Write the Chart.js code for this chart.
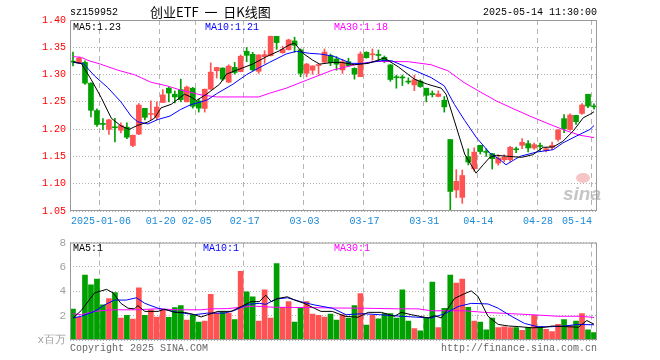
<!DOCTYPE html>
<html>
<head>
<meta charset="utf-8">
<script src="https://cdn.jsdelivr.net/npm/chart.js@4"></script>
<style>
    body { margin: 0; background: #fff; }
    #wrap { position: relative; width: 660px; height: 360px; }
    canvas { position: absolute; left: 0; }
</style>
</head>
<body>
<div id="wrap">
    <canvas id="priceChart" width="660" height="232" style="top:0;width:660px;height:232px"></canvas>
    <canvas id="volChart" width="660" height="128" style="top:232px;width:660px;height:128px"></canvas>
</div>
<script>
// daily candles, 2024-12-27 .. 2025-05-14 (88 trading days)
const opens = [
    1.3240, 1.3210, 1.3222, 1.2843, 1.2340, 1.2093, 1.1995, 1.2030, 1.1980, 1.2036,
    1.1700, 1.1910, 1.2381, 1.2270, 1.2217, 1.2489, 1.2751, 1.2640, 1.2723, 1.2500,
    1.2750, 1.2515, 1.2380, 1.2732, 1.3070, 1.3119, 1.2860, 1.3132, 1.3054, 1.3427,
    1.3370, 1.3060, 1.3328, 1.3346, 1.3700, 1.3400, 1.3458, 1.3616, 1.3453, 1.3023,
    1.3080, 1.3165, 1.3228, 1.3346, 1.3285, 1.3085, 1.3235, 1.3113, 1.2962, 1.3408,
    1.3362, 1.3358, 1.3316, 1.3177, 1.2950, 1.2945, 1.2868, 1.2810, 1.2880, 1.2750,
    1.2640, 1.2600, 1.2530, 1.1810, 1.0885, 1.0750, 1.1495, 1.1273, 1.1703, 1.1580,
    1.1552, 1.1378, 1.1440, 1.1440, 1.1632, 1.1704, 1.1735, 1.1655, 1.1690, 1.1606,
    1.1667, 1.1812, 1.2192, 1.1993, 1.2252, 1.2288, 1.2640, 1.2414
];
const highs = [
    1.3410, 1.3320, 1.3250, 1.2850, 1.2370, 1.2192, 1.2180, 1.2200, 1.2116, 1.2116,
    1.1890, 1.2467, 1.2381, 1.2517, 1.2500, 1.2725, 1.2770, 1.2700, 1.2916, 1.2790,
    1.2765, 1.2545, 1.2734, 1.3215, 1.3135, 1.3125, 1.3180, 1.3223, 1.3360, 1.3495,
    1.3408, 1.3365, 1.3438, 1.3705, 1.3702, 1.3520, 1.3648, 1.3685, 1.3470, 1.3205,
    1.3162, 1.3205, 1.3470, 1.3377, 1.3330, 1.3280, 1.3300, 1.3125, 1.3417, 1.3420,
    1.3470, 1.3450, 1.3340, 1.3185, 1.2990, 1.2990, 1.2940, 1.2990, 1.2905, 1.2750,
    1.2700, 1.2700, 1.2597, 1.1810, 1.1257, 1.1250, 1.1640, 1.1658, 1.1706, 1.1640,
    1.1555, 1.1530, 1.1530, 1.1685, 1.1672, 1.1827, 1.1790, 1.1745, 1.1745, 1.1667,
    1.1765, 1.1990, 1.2265, 1.2282, 1.2252, 1.2467, 1.2640, 1.2463
];
const lows = [
    1.3160, 1.3200, 1.2820, 1.2225, 1.2050, 1.1990, 1.1905, 1.1765, 1.1930, 1.1827,
    1.1680, 1.1900, 1.2168, 1.2180, 1.2174, 1.2489, 1.2500, 1.2480, 1.2500, 1.2500,
    1.2385, 1.2312, 1.2312, 1.2730, 1.2935, 1.2890, 1.2855, 1.3007, 1.3050, 1.3236,
    1.3070, 1.3021, 1.3205, 1.3340, 1.3462, 1.3390, 1.3450, 1.3408, 1.2960, 1.2960,
    1.3007, 1.3007, 1.3220, 1.3162, 1.3080, 1.3020, 1.3150, 1.2916, 1.2960, 1.3300,
    1.3266, 1.3254, 1.3220, 1.2876, 1.2750, 1.2800, 1.2830, 1.2705, 1.2765, 1.2500,
    1.2590, 1.2590, 1.2312, 1.0500, 1.0745, 1.0640, 1.1345, 1.1230, 1.1544, 1.1500,
    1.1268, 1.1340, 1.1400, 1.1410, 1.1570, 1.1643, 1.1581, 1.1630, 1.1610, 1.1581,
    1.1625, 1.1778, 1.1935, 1.1975, 1.2086, 1.2270, 1.2393, 1.2365
];
const closes = [
    1.3228, 1.3300, 1.2843, 1.2345, 1.2085, 1.2087, 1.2170, 1.2025, 1.2067, 1.1852,
    1.1888, 1.2440, 1.2217, 1.2278, 1.2405, 1.2628, 1.2661, 1.2590, 1.2541, 1.2770,
    1.2420, 1.2385, 1.2732, 1.3045, 1.3130, 1.2917, 1.3155, 1.3039, 1.3336, 1.3352,
    1.3088, 1.3360, 1.3365, 1.3700, 1.3586, 1.3460, 1.3635, 1.3536, 1.3023, 1.3193,
    1.3158, 1.3178, 1.3412, 1.3220, 1.3190, 1.3235, 1.3163, 1.3008, 1.3377, 1.3310,
    1.3372, 1.3350, 1.3254, 1.2910, 1.2942, 1.2938, 1.2862, 1.2905, 1.2781, 1.2620,
    1.2634, 1.2644, 1.2408, 1.0858, 1.1043, 1.1150, 1.1397, 1.1578, 1.1590, 1.1574,
    1.1458, 1.1470, 1.1483, 1.1667, 1.1622, 1.1759, 1.1655, 1.1716, 1.1683, 1.1643,
    1.1704, 1.1985, 1.2010, 1.2258, 1.2135, 1.2442, 1.2422, 1.2408
];
// volume, millions
const volumes = [
    2.53, 1.87, 5.33, 4.53, 5.01, 2.88, 3.41, 3.89, 1.81, 2.03,
    1.71, 4.29, 2.03, 2.48, 1.89, 2.48, 1.87, 2.67, 2.83, 1.63,
    2.03, 1.47, 1.55, 3.76, 2.21, 2.29, 2.21, 1.68, 5.63, 3.95,
    3.55, 1.55, 4.13, 1.81, 6.27, 2.69, 3.15, 1.47, 2.61, 3.15,
    2.13, 2.03, 1.89, 2.13, 1.63, 2.08, 1.81, 2.83, 3.81, 1.23,
    2.03, 1.73, 2.16, 2.16, 1.81, 4.13, 1.55, 0.93, 0.75, 1.81,
    4.75, 1.01, 2.61, 5.33, 4.67, 5.01, 2.69, 1.55, 1.47, 0.83,
    1.81, 1.01, 1.09, 1.01, 1.01, 0.80, 1.01, 2.03, 1.09, 0.88,
    0.69, 1.28, 1.68, 1.20, 1.55, 2.16, 0.83, 0.61
];

// moving average lines: [day index, value]
const priceMa5 = [
    [0, 1.3235], [1.4, 1.3200], [3, 1.2916], [4.7, 1.2580], [6.4, 1.2200], [8, 1.2060],
    [9.4, 1.1996], [10.8, 1.2070], [12.5, 1.2130], [13.6, 1.2200], [14.7, 1.2390],
    [16.4, 1.2455], [18.6, 1.2640], [19.7, 1.2590], [20.6, 1.2525], [22.3, 1.2640],
    [24.5, 1.2825], [25.6, 1.3006], [27.3, 1.3080], [30, 1.3192], [32.3, 1.3328],
    [34.5, 1.3438], [36.2, 1.3549], [37, 1.3574], [38.4, 1.3389], [40, 1.3266],
    [41.2, 1.3192], [43.4, 1.3223], [44.8, 1.3223], [47, 1.3180], [49.3, 1.3205],
    [52, 1.3303], [54.3, 1.3143], [57, 1.2916], [59.2, 1.2823], [61.5, 1.2750],
    [62.3, 1.2639], [63.7, 1.2147], [65.4, 1.1544], [66.3, 1.1378], [67.3, 1.1194],
    [68.5, 1.1347], [69.6, 1.1483], [70.7, 1.1520], [72.9, 1.1500], [74.9, 1.1483],
    [76.8, 1.1532], [78.5, 1.1667], [80.2, 1.1673], [81.8, 1.1778], [83.5, 1.1962],
    [85.2, 1.2208], [86.3, 1.2270], [87, 1.2319]
];
const priceMa10 = [
    [0, 1.3223], [1.7, 1.3205], [3.6, 1.2975], [5.8, 1.2762], [8, 1.2500], [9.7, 1.2239],
    [10.8, 1.2135], [12.5, 1.2095], [14.2, 1.2178], [16.2, 1.2240], [18, 1.2362],
    [19.7, 1.2450], [21.4, 1.2500], [22.5, 1.2540], [24, 1.2650], [26.7, 1.2823],
    [29, 1.3000], [31.2, 1.3132], [32.8, 1.3223], [35.6, 1.3377], [37.3, 1.3426],
    [39.5, 1.3389], [41.2, 1.3377], [43.4, 1.3340], [46.5, 1.3205], [48.7, 1.3205],
    [51.5, 1.3254], [53.2, 1.3254], [56.5, 1.3100], [59.8, 1.2945], [62, 1.2793],
    [63.7, 1.2451], [65.4, 1.2160], [67.4, 1.1840], [69.6, 1.1563], [71.3, 1.1440],
    [72.3, 1.1347], [74.6, 1.1500], [77.4, 1.1580], [80.2, 1.1624], [81.8, 1.1747],
    [84, 1.1870], [86.3, 1.1993], [87, 1.2067]
];
const priceMa30 = [
    [0, 1.3330], [1.4, 1.3315], [2.5, 1.3260], [4.6, 1.3190], [7.5, 1.3080],
    [10.3, 1.2996], [13, 1.2860], [15.8, 1.2790], [18, 1.2715], [21.4, 1.2627],
    [24, 1.2590], [31, 1.2590], [32.8, 1.2657], [35.6, 1.2750], [39, 1.2897],
    [43.3, 1.3080], [47.6, 1.3193], [50.4, 1.3242], [56, 1.3236], [59.8, 1.3180],
    [62.6, 1.3070], [65.3, 1.2854], [68, 1.2682], [70.7, 1.2516], [73.5, 1.2375],
    [76.3, 1.2239], [79, 1.2116], [81.8, 1.1993], [84.6, 1.1889], [87, 1.1845]
];
const volMa5 = [
    [0, 1.81], [1.4, 2.43], [2.5, 3.15], [3.6, 3.87], [4.7, 4.03], [5.6, 4.16], [6.7, 3.87],
    [8, 3.01], [9.2, 2.61], [10.3, 2.56], [10.8, 2.83], [12, 2.35], [14.2, 2.35],
    [15.3, 2.53], [17, 2.27], [18.6, 2.27], [20.3, 2.08], [21.4, 1.89], [22.5, 2.08],
    [24.2, 2.35], [26.4, 2.35], [28.1, 2.75], [29.7, 3.15], [31.1, 3.15], [32.2, 3.68],
    [33.1, 3.15], [34.2, 3.41], [35.8, 3.55], [37, 3.28], [38.6, 3.01], [40.3, 2.61],
    [41.4, 2.35], [43.3, 2.35], [45.4, 1.95], [47.6, 1.87], [49.3, 2.27], [51.5, 2.27],
    [53.7, 1.95], [54.8, 2.27], [56.5, 2.08], [59.3, 1.81], [60.4, 2.00], [61.5, 1.81],
    [62.3, 2.35], [63.7, 3.41], [65.4, 3.81], [66.5, 4.03], [67.6, 3.60], [69.3, 1.95],
    [71, 1.28], [72.7, 1.15], [74.4, 1.10], [76.7, 1.00], [78.9, 1.05], [80, 1.15],
    [82.2, 1.10], [84.4, 1.05], [85.8, 1.60], [87, 1.30]
];
const volMa10 = [
    [0, 1.81], [1.4, 1.95], [3.6, 2.35], [5.3, 2.88], [6.9, 3.28], [8.9, 3.28], [10.6, 3.47],
    [12, 3.01], [14.2, 2.61], [17.5, 2.27], [20.3, 2.08], [22.5, 2.21], [25.3, 2.21],
    [27, 2.43], [29.2, 2.93], [31.1, 3.01], [32.2, 2.93], [33.9, 3.36], [35.8, 3.47],
    [38, 3.15], [40.3, 2.88], [43.3, 2.61], [45.6, 2.08], [48.4, 2.16], [51.2, 2.08],
    [54.8, 1.95], [57.6, 1.87], [59.8, 1.81], [62.1, 2.16], [64.3, 2.75], [66.5, 3.01],
    [69.3, 2.96], [71, 2.61], [73.2, 1.95], [75.4, 1.36], [77.6, 1.09], [79.8, 1.09],
    [82.1, 1.15], [84.3, 1.28], [87, 1.25]
];
const volMa30 = [
    [0, 2.16], [1.4, 2.08], [3.6, 2.35], [6.4, 2.48], [10.3, 2.48], [14.2, 2.56],
    [17.5, 2.48], [21.4, 2.48], [23, 2.56], [25.8, 2.58], [28.1, 2.69], [30.3, 2.78],
    [33.6, 2.69], [37, 2.67], [39.2, 2.67], [43.3, 2.63], [48.7, 2.61], [54.3, 2.56],
    [57.6, 2.56], [59.8, 2.40], [65.4, 2.40], [68.7, 2.27], [73.2, 2.16], [77.6, 2.05],
    [81, 1.95], [84.8, 1.95], [87, 1.85]
];

const xTickIdx = [5, 15, 21, 29, 39, 49, 59, 68, 78, 87];
const xTickLabels = ['2025-01-06', '01-20', '02-05', '02-17', '03-03', '03-17', '03-31', '04-14', '04-28', '05-14'];
const priceTicks = [1.05, 1.10, 1.15, 1.20, 1.25, 1.30, 1.35, 1.40];
const volTicks = [0, 2, 4, 6, 8];

const RED = '#ff5353';
const GREEN = '#00a000';
const MONO = "'Liberation Mono', 'DejaVu Sans Mono', monospace";
const GRID = '#b4b4b4';

const candleColors = closes.map((c, i) => c >= opens[i] ? RED : GREEN);
const wicks = closes.map((c, i) => ({x: i, y: [lows[i], highs[i]]}));
const bodies = closes.map((c, i) => ({x: i, y: [opens[i], c]}));
const volBars = volumes.map((v, i) => ({x: i, y: v}));
const toPts = arr => arr.map(p => ({x: p[0], y: p[1]}));

function maLine(points, color) {
    return {
        type: 'line',
        data: toPts(points),
        borderColor: color,
        borderWidth: 1,
        pointRadius: 0,
        tension: 0,
        order: 0
    };
}

function xScale(axisHeight) {
    return {
        type: 'linear',
        min: -0.5,
        max: 87.5,
        offset: false,
        afterBuildTicks: s => { s.ticks = xTickIdx.map(i => ({value: i - 0.5})); },
        afterFit: s => { s.height = axisHeight; },
        ticks: {display: false},
        grid: {color: GRID, drawTicks: false, offset: false},
        border: {display: false, dash: [5, 4]}
    };
}

const priceDecor = {
    id: 'priceDecor',
    afterDraw(chart) {
        const {ctx, chartArea: a, scales} = chart;
        ctx.save();
        ctx.strokeStyle = '#999';
        ctx.lineWidth = 1;
        ctx.strokeRect(a.left + 0.5, a.top + 0.5, a.right - a.left - 1, a.bottom - a.top - 1);

        ctx.textBaseline = 'middle';
        ctx.font = '10px ' + MONO;
        ctx.fillStyle = '#000';
        ctx.textAlign = 'left';
        ctx.fillText('sz159952', 70, 12);
        ctx.textAlign = 'right';
        ctx.fillText('2025-05-14 11:30:00', 597, 12);
        ctx.textAlign = 'left';
        ctx.font = "13px 'Noto Sans CJK SC', sans-serif";
        ctx.fillText('创业ETF  一  日K线图', 150, 12);

        ctx.font = '10px ' + MONO;
        ctx.fillStyle = '#000';
        ctx.fillText('MA5:1.23', 73, 27);
        ctx.fillStyle = '#0000ff';
        ctx.fillText('MA10:1.21', 205, 27);
        ctx.fillStyle = '#ff00ff';
        ctx.fillText('MA30:1.18', 334, 27);

        ctx.fillStyle = '#1a8ad8';
        xTickIdx.forEach((idx, k) => {
            const px = scales.x.getPixelForValue(idx - 0.5);
            const last = k === xTickIdx.length - 1;
            ctx.textAlign = last ? 'right' : 'center';
            ctx.fillText(xTickLabels[k], px + 1, 221);
        });

        // sina watermark
        ctx.fillStyle = 'rgba(240,150,150,0.55)';
        ctx.beginPath();
        ctx.ellipse(583, 178, 7, 5, 0, 0, Math.PI * 2);
        ctx.fill();
        ctx.fillStyle = 'rgba(150,150,150,0.55)';
        ctx.font = "italic bold 19px 'Liberation Sans', sans-serif";
        ctx.textAlign = 'left';
        ctx.fillText('sina', 563, 195);
        ctx.restore();
    }
};

const volDecor = {
    id: 'volDecor',
    afterDraw(chart) {
        const {ctx, chartArea: a} = chart;
        ctx.save();
        ctx.strokeStyle = '#999';
        ctx.lineWidth = 1;
        ctx.strokeRect(a.left + 0.5, a.top + 0.5, a.right - a.left - 1, a.bottom - a.top - 1);
        ctx.textBaseline = 'middle';
        ctx.font = '10px ' + MONO;
        ctx.fillStyle = '#000';
        ctx.fillText('MA5:1', 73, 16);
        ctx.fillStyle = '#0000ff';
        ctx.fillText('MA10:1', 203, 16);
        ctx.fillStyle = '#ff00ff';
        ctx.fillText('MA30:1', 334, 16);
        ctx.fillStyle = '#666';
        ctx.fillText('Copyright 2025 SINA.COM', 70, 116);
        ctx.textAlign = 'right';
        ctx.fillText('http://finance.sina.com.cn', 597, 116);
        ctx.restore();
    }
};

new Chart(document.getElementById('priceChart'), {
    type: 'bar',
    data: {
        datasets: [
            maLine(priceMa5, '#000000'),
            maLine(priceMa10, '#0000ff'),
            maLine(priceMa30, '#ff00ff'),
            {data: bodies, backgroundColor: candleColors, barThickness: 5, minBarLength: 1, grouped: false, order: 1},
            {data: wicks, backgroundColor: candleColors, barThickness: 1, minBarLength: 1, grouped: false, order: 2}
        ]
    },
    options: {
        responsive: false,
        animation: false,
        layout: {padding: {left: 0, right: 63, top: 20, bottom: 0}},
        plugins: {legend: {display: false}, tooltip: {enabled: false}},
        scales: {
            x: xScale(21),
            y: {
                min: 1.05,
                max: 1.40,
                afterBuildTicks: s => { s.ticks = priceTicks.map(v => ({value: v})); },
                afterFit: s => { s.width = 70; },
                ticks: {color: '#ff0000', font: {family: MONO, size: 10}, padding: 4, callback: v => v.toFixed(2)},
                grid: {color: GRID, drawTicks: false},
                border: {display: false, dash: [1, 2]}
            }
        }
    },
    plugins: [priceDecor]
});

new Chart(document.getElementById('volChart'), {
    type: 'bar',
    data: {
        datasets: [
            maLine(volMa5, '#000000'),
            maLine(volMa10, '#0000ff'),
            maLine(volMa30, '#ff00ff'),
            {data: volBars, backgroundColor: candleColors, barThickness: 5, grouped: false, order: 1}
        ]
    },
    options: {
        responsive: false,
        animation: false,
        layout: {padding: {left: 0, right: 63, top: 8, bottom: 20}},
        plugins: {legend: {display: false}, tooltip: {enabled: false}},
        scales: {
            x: xScale(0),
            y: {
                min: 0,
                max: 8,
                afterBuildTicks: s => { s.ticks = volTicks.map(v => ({value: v})); },
                afterFit: s => { s.width = 70; },
                ticks: {color: '#a0a0a0', font: {family: MONO, size: 11}, padding: 4, callback: v => v === 0 ? 'x百万' : v},
                grid: {color: GRID, drawTicks: false},
                border: {display: false, dash: [1, 2]}
            }
        }
    },
    plugins: [volDecor]
});
</script>
</body>
</html>
